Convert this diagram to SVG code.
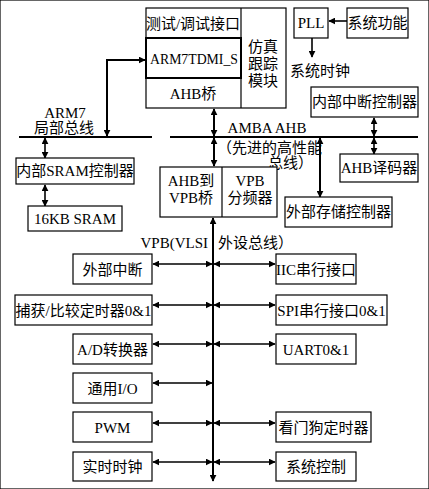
<svg xmlns="http://www.w3.org/2000/svg" width="429" height="489" viewBox="0 0 429 489">
<defs>
<style>
rect{fill:#fff;stroke:#000;stroke-width:1.2}
rect.thick{stroke-width:2}
text{font-family:"Liberation Serif","Noto Sans CJK SC",serif;font-size:15px;fill:#000}
.c{text-anchor:middle}
.bus{stroke:#000;stroke-width:2.2;fill:none}
.a2{stroke:#000;stroke-width:2;fill:none;marker-start:url(#ah);marker-end:url(#ah)}
.a1{stroke:#000;stroke-width:1.6;fill:none;marker-start:url(#ah);marker-end:url(#ah)}
.a0{stroke:#000;stroke-width:1.6;fill:none;marker-end:url(#ah)}
</style>
<marker id="ah" viewBox="0 0 10 10" refX="9" refY="5" markerWidth="7" markerHeight="7" markerUnits="userSpaceOnUse" orient="auto-start-reverse">
<path d="M0,0 L10,5 L0,10 z" fill="#000"/>
</marker>
</defs>
<rect width="429" height="489" fill="#fff" stroke="none"/>

<g id="connectors">
<line class="bus" x1="19" y1="137" x2="152" y2="137"/>
<line class="bus" x1="170" y1="137" x2="418" y2="137"/>
<path class="a2" d="M107,136 V60 H145"/>
<line class="a1" x1="45" y1="138" x2="45" y2="158"/>
<line class="a1" x1="45" y1="185" x2="45" y2="206"/>
<line class="a2" x1="214" y1="109" x2="214" y2="136"/>
<line class="a2" x1="214" y1="138" x2="214" y2="166"/>
<line class="a0" x1="347" y1="21" x2="329" y2="21"/>
<line class="a0" x1="312" y1="38" x2="312" y2="57"/>
<line class="a1" x1="374" y1="118" x2="374" y2="136"/>
<line class="a1" x1="374" y1="138" x2="374" y2="154"/>
<line class="a2" x1="320" y1="138" x2="320" y2="197"/>
<line class="a2" x1="213" y1="218" x2="213" y2="481"/>
<line class="a1" x1="153" y1="264" x2="212" y2="264"/>
<line class="a1" x1="153" y1="305" x2="212" y2="305"/>
<line class="a1" x1="153" y1="344" x2="212" y2="344"/>
<line class="a1" x1="153" y1="383" x2="212" y2="383"/>
<line class="a1" x1="153" y1="423" x2="212" y2="423"/>
<line class="a1" x1="153" y1="462" x2="212" y2="462"/>
<line class="a1" x1="214" y1="264" x2="275" y2="264"/>
<line class="a1" x1="214" y1="305" x2="275" y2="305"/>
<line class="a1" x1="214" y1="344" x2="275" y2="344"/>
<line class="a1" x1="214" y1="423" x2="275" y2="423"/>
<line class="a1" x1="214" y1="462" x2="275" y2="462"/>
</g>

<g id="labels">
<text x="65" y="118" class="c">ARM7</text>
<text x="64" y="133" class="c">局部总线</text>
<text x="267" y="133" class="c" font-size="14">AMBA AHB</text>
<text x="217" y="153">（先进的高性能</text>
<text x="313" y="168" text-anchor="end">总线）</text>
<text x="208" y="248" text-anchor="end">VPB(VLSI</text>
<text x="218" y="248">外设总线）</text>
<text x="290" y="76">系统时钟</text>
</g>

<g id="arm7-core">
<rect x="146" y="8" width="140" height="100"/>
<line x1="241" y1="8" x2="241" y2="108" stroke="#000" stroke-width="1.2"/>
<text x="193" y="29" class="c">测试/调试接口</text>
<rect class="thick" x="146" y="38" width="95" height="40"/>
<text x="194" y="64" class="c" font-size="14" textLength="88" lengthAdjust="spacingAndGlyphs">ARM7TDMI_S</text>
<text x="193" y="99" class="c">AHB桥</text>
<text x="263" y="52" class="c">仿真</text>
<text x="263" y="69" class="c">跟踪</text>
<text x="263" y="86" class="c">模块</text>
</g>

<g id="pll"><rect x="294" y="8" width="34" height="30"/><text x="311" y="28" class="c">PLL</text></g>
<g id="sysfunc"><rect x="347" y="8" width="61" height="30"/><text x="377.5" y="28" class="c">系统功能</text></g>
<g id="vic"><rect x="311" y="87" width="107" height="30"/><text x="364.5" y="107" class="c">内部中断控制器</text></g>
<g id="ahbdec"><rect x="340" y="154" width="78" height="28"/><text x="379" y="173" class="c">AHB译码器</text></g>
<g id="emc"><rect x="285" y="197" width="107" height="30"/><text x="338.5" y="217" class="c">外部存储控制器</text></g>
<g id="sramctl"><rect x="16" y="158" width="118" height="26"/><text x="75" y="176" class="c">内部SRAM控制器</text></g>
<g id="sram"><rect x="28" y="206" width="94" height="25"/><text x="75" y="224" class="c">16KB SRAM</text></g>
<g id="bridge">
<rect x="160" y="167" width="117" height="50"/>
<line x1="222" y1="167" x2="222" y2="217" stroke="#000" stroke-width="1.2"/>
<text x="191" y="186" class="c">AHB到</text>
<text x="191" y="203" class="c">VPB桥</text>
<text x="250" y="186" class="c">VPB</text>
<text x="250" y="203" class="c">分频器</text>
</g>

<g id="eint"><rect x="73" y="254" width="79" height="30"/><text x="112.5" y="275" class="c">外部中断</text></g>
<g id="timer"><rect x="15" y="295" width="137" height="30"/><text x="83.5" y="316" class="c">捕获/比较定时器0&amp;1</text></g>
<g id="adc"><rect x="73" y="334" width="79" height="30"/><text x="112.5" y="355" class="c">A/D转换器</text></g>
<g id="gpio"><rect x="73" y="373" width="79" height="30"/><text x="112.5" y="394" class="c">通用I/O</text></g>
<g id="pwm"><rect x="73" y="412" width="79" height="30"/><text x="112.5" y="433" class="c">PWM</text></g>
<g id="rtc"><rect x="73" y="452" width="79" height="29"/><text x="112.5" y="472" class="c">实时时钟</text></g>

<g id="iic"><rect x="276" y="254" width="80" height="30"/><text x="316" y="275" class="c">IIC串行接口</text></g>
<g id="spi"><rect x="276" y="295" width="111" height="30"/><text x="331.5" y="316" class="c">SPI串行接口0&amp;1</text></g>
<g id="uart"><rect x="276" y="334" width="80" height="30"/><text x="316" y="355" class="c">UART0&amp;1</text></g>
<g id="wdt"><rect x="276" y="412" width="95" height="30"/><text x="323.5" y="433" class="c">看门狗定时器</text></g>
<g id="sysctl"><rect x="276" y="452" width="80" height="29"/><text x="316" y="472" class="c">系统控制</text></g>
</svg>
